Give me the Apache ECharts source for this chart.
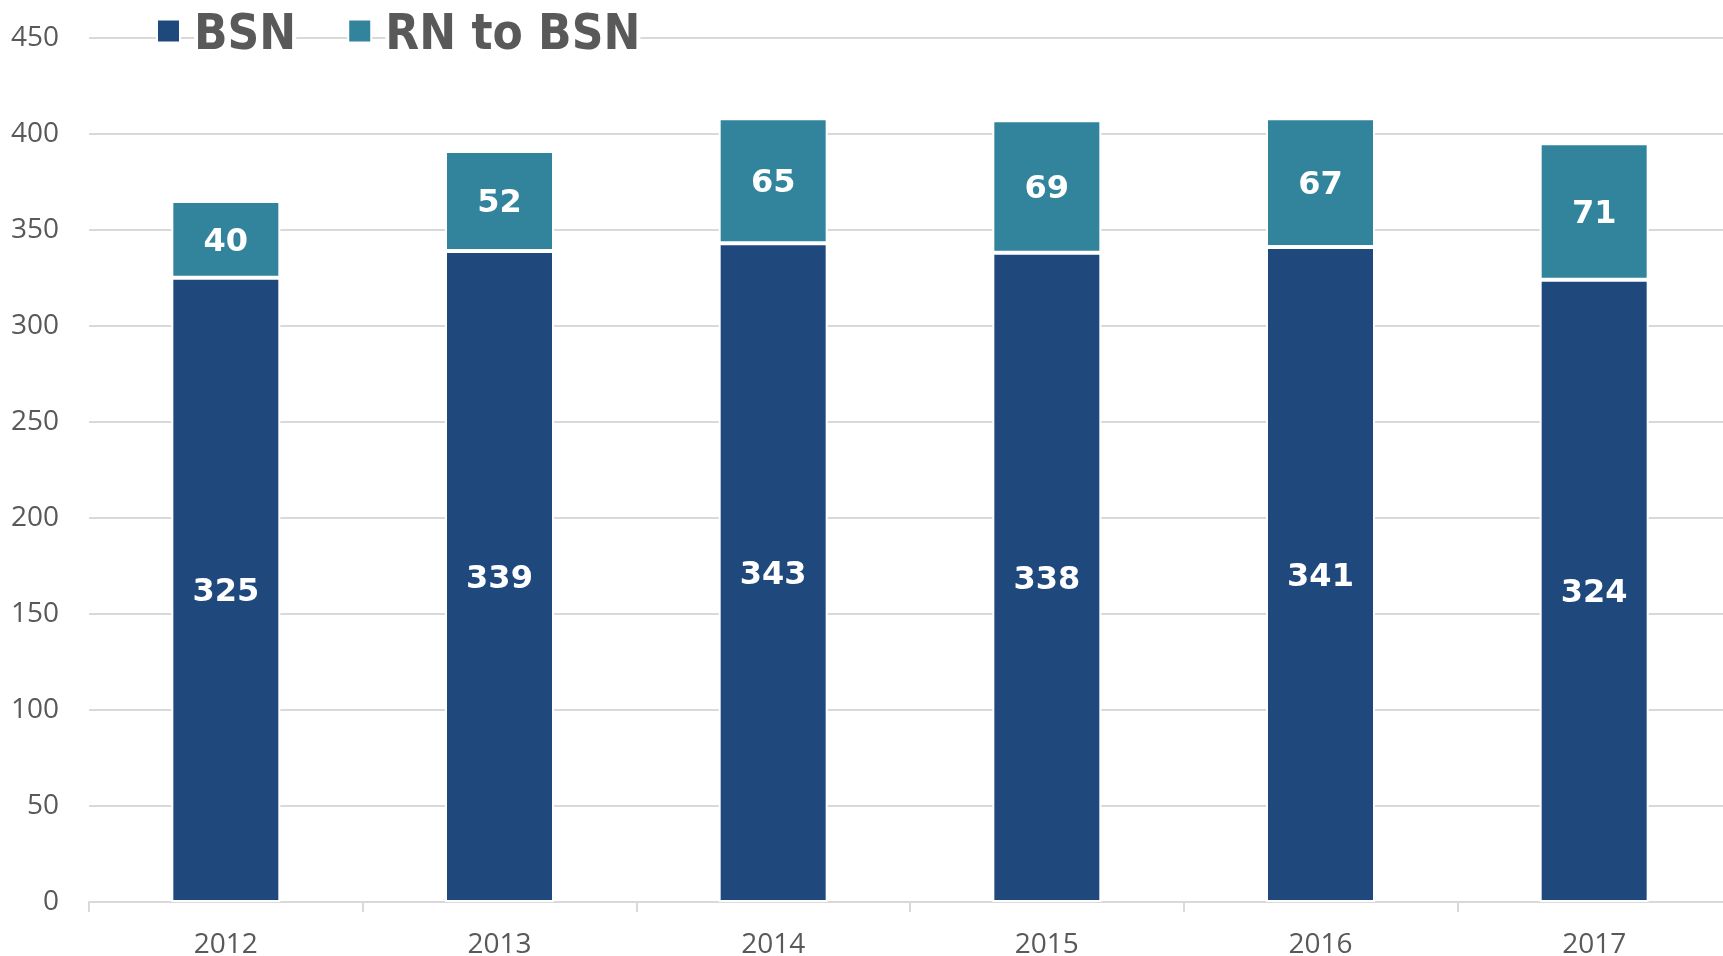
<!DOCTYPE html>
<html>
<head>
<meta charset="utf-8">
<script src="https://cdn.jsdelivr.net/npm/echarts@6/dist/echarts.min.js"></script>
<style>
html,body{margin:0;padding:0;background:#fff;}
#chart{width:1723px;height:956px;}
</style>
</head>
<body>
<div id="chart"></div>
<script>
const categories = ['2012', '2013', '2014', '2015', '2016', '2017'];
const bsnValues = [325, 339, 343, 338, 341, 324];
const rnToBsnValues = [40, 52, 65, 69, 67, 71];
const seriesNames = ['BSN', 'RN to BSN'];
const yTicks = { min: 0, max: 450, interval: 50 };

const chart = echarts.init(document.getElementById('chart'), null, { renderer: 'canvas' });

const labelStyle = {
  show: true,
  position: 'inside',
  offset: [0, 3],
  color: '#ffffff',
  fontFamily: 'DejaVu Sans',
  fontWeight: 'bold',
  fontSize: 32
};

chart.setOption({
  backgroundColor: '#ffffff',
  animation: false,
  legend: {
    left: 156,
    top: 1,
    padding: 0,
    itemWidth: 23,
    itemHeight: 23,
    itemGap: 51,
    icon: 'rect',
    data: seriesNames,
    formatter: function (name) { return '{s|}{t|' + name + '}'; },
    textStyle: {
      lineHeight: 47,
      rich: {
        s: { width: 9 },
        t: {
          fontFamily: 'DejaVu Sans Condensed, DejaVu Sans',
          fontWeight: 'bold',
          fontSize: 49,
          color: '#595959',
          backgroundColor: '#ffffff',
          lineHeight: 47,
          padding: [11, 0, 0, 0]
        }
      }
    }
  },
  grid: {
    left: 89,
    width: 1642,
    top: 37.7,
    bottom: 54,
    containLabel: false,
    outerBoundsMode: 'none'
  },
  xAxis: {
    type: 'category',
    data: categories,
    axisLine: { show: true, lineStyle: { color: '#d9d9d9', width: 2 } },
    axisTick: { show: true, length: 10, lineStyle: { color: '#d9d9d9', width: 2 } },
    axisLabel: {
      color: '#595959',
      fontFamily: 'Open Sans',
      fontSize: 28,
      margin: 29
    }
  },
  yAxis: {
    type: 'value',
    min: yTicks.min,
    max: yTicks.max,
    interval: yTicks.interval,
    axisLine: { show: false },
    axisTick: { show: false },
    axisLabel: {
      color: '#595959',
      fontFamily: 'Open Sans',
      fontSize: 28,
      margin: 30
    },
    splitLine: { lineStyle: { color: '#d9d9d9', width: 2 } }
  },
  series: [
    {
      name: seriesNames[0],
      type: 'bar',
      stack: 'total',
      data: bsnValues,
      barWidth: 109,
      itemStyle: { color: '#1F497D', borderColor: '#ffffff', borderWidth: 2 },
      label: labelStyle
    },
    {
      name: seriesNames[1],
      type: 'bar',
      stack: 'total',
      data: rnToBsnValues,
      barWidth: 109,
      itemStyle: { color: '#31849B', borderColor: '#ffffff', borderWidth: 2 },
      label: labelStyle
    }
  ]
});
</script>
</body>
</html>
